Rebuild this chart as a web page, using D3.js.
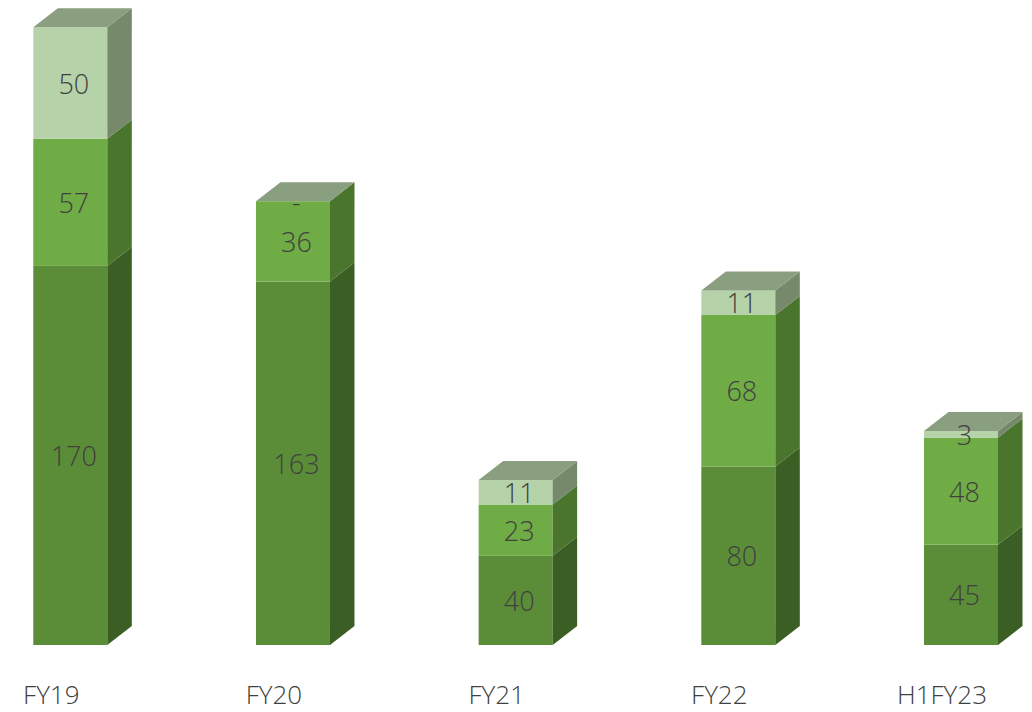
<!DOCTYPE html>
<html>
<head>
<meta charset="utf-8">
<script src="https://cdn.jsdelivr.net/npm/d3@7/dist/d3.min.js"></script>
<style>
  html, body { margin: 0; padding: 0; background: #ffffff; }
  svg { display: block; }
  text { font-family: "Open Sans", "Noto Sans", sans-serif; font-weight: 300; fill: #404040; }
</style>
</head>
<body>
<svg id="chart" width="1032" height="712"></svg>
<script>
// Periods on the horizontal axis
const categories = ["FY19", "FY20", "FY21", "FY22", "H1FY23"];
// Stacked series, bottom to top
const seriesBase = [170, 163, 40, 80, 45];
const seriesMid  = [57, 36, 23, 68, 48];
const seriesTop  = [50, 0, 11, 11, 3];

const series = [
  { values: seriesBase, front: "#5b8d38", side: "#3a5e24" },
  { values: seriesMid,  front: "#70ac46", side: "#4a752d" },
  { values: seriesTop,  front: "#b5d2a8", side: "#76896b" }
];
const capColor = "#8a9e80";

const baseY = 645;
const barW = 74;
const depthX = 24.5, depthY = 19;

const svg = d3.select("#chart");

const x = d3.scalePoint()
  .domain(categories)
  .range([70.3, 961]);

const y = d3.scaleLinear()
  .domain([0, 280])
  .range([baseY, baseY - 280 * 2.23]);

// Build stacked segments per category
const stacked = categories.map((c, i) => {
  let acc = 0;
  const segs = series.map((s, k) => {
    const y0 = acc;
    acc += s.values[i];
    return { cat: c, k, v: s.values[i], y0, y1: acc, front: s.front, side: s.side };
  });
  return { cat: c, segs, total: acc };
});

const bars = svg.append("g").selectAll("g.bar")
  .data(stacked)
  .join("g")
  .attr("class", "bar");

bars.each(function(d) {
  const g = d3.select(this);
  const left = x(d.cat) - barW / 2;
  const right = left + barW;
  d.segs.filter(s => s.v > 0).forEach(s => {
    const top = y(s.y1), bot = y(s.y0);
    // front face
    g.append("rect")
      .attr("x", left).attr("y", top)
      .attr("width", barW).attr("height", bot - top)
      .attr("fill", s.front);
    // right side face
    g.append("path")
      .attr("d", `M${right},${bot}L${right},${top}L${right + depthX},${top - depthY}L${right + depthX},${bot - depthY}Z`)
      .attr("fill", s.side);
  });
  // top cap
  const t = y(d.total);
  g.append("path")
    .attr("d", `M${left},${t}L${right},${t}L${right + depthX},${t - depthY}L${left + depthX},${t - depthY}Z`)
    .attr("fill", capColor);
});

// value labels
const labels = svg.append("g");
stacked.forEach(d => {
  d.segs.forEach(s => {
    labels.append("text")
      .attr("x", x(d.cat) + 3.5)
      .attr("y", (y(s.y0) + y(s.y1)) / 2)
      .attr("text-anchor", "middle")
      .attr("dominant-baseline", "central")
      .attr("font-size", 27)
      .text(s.v === 0 ? "-" : s.v);
  });
});

// category axis labels
svg.append("g").selectAll("text")
  .data(categories)
  .join("text")
  .attr("x", c => x(c) - 19)
  .attr("y", 704)
  .attr("text-anchor", "middle")
  .attr("font-size", 26)
  .text(c => c);
</script>
</body>
</html>
